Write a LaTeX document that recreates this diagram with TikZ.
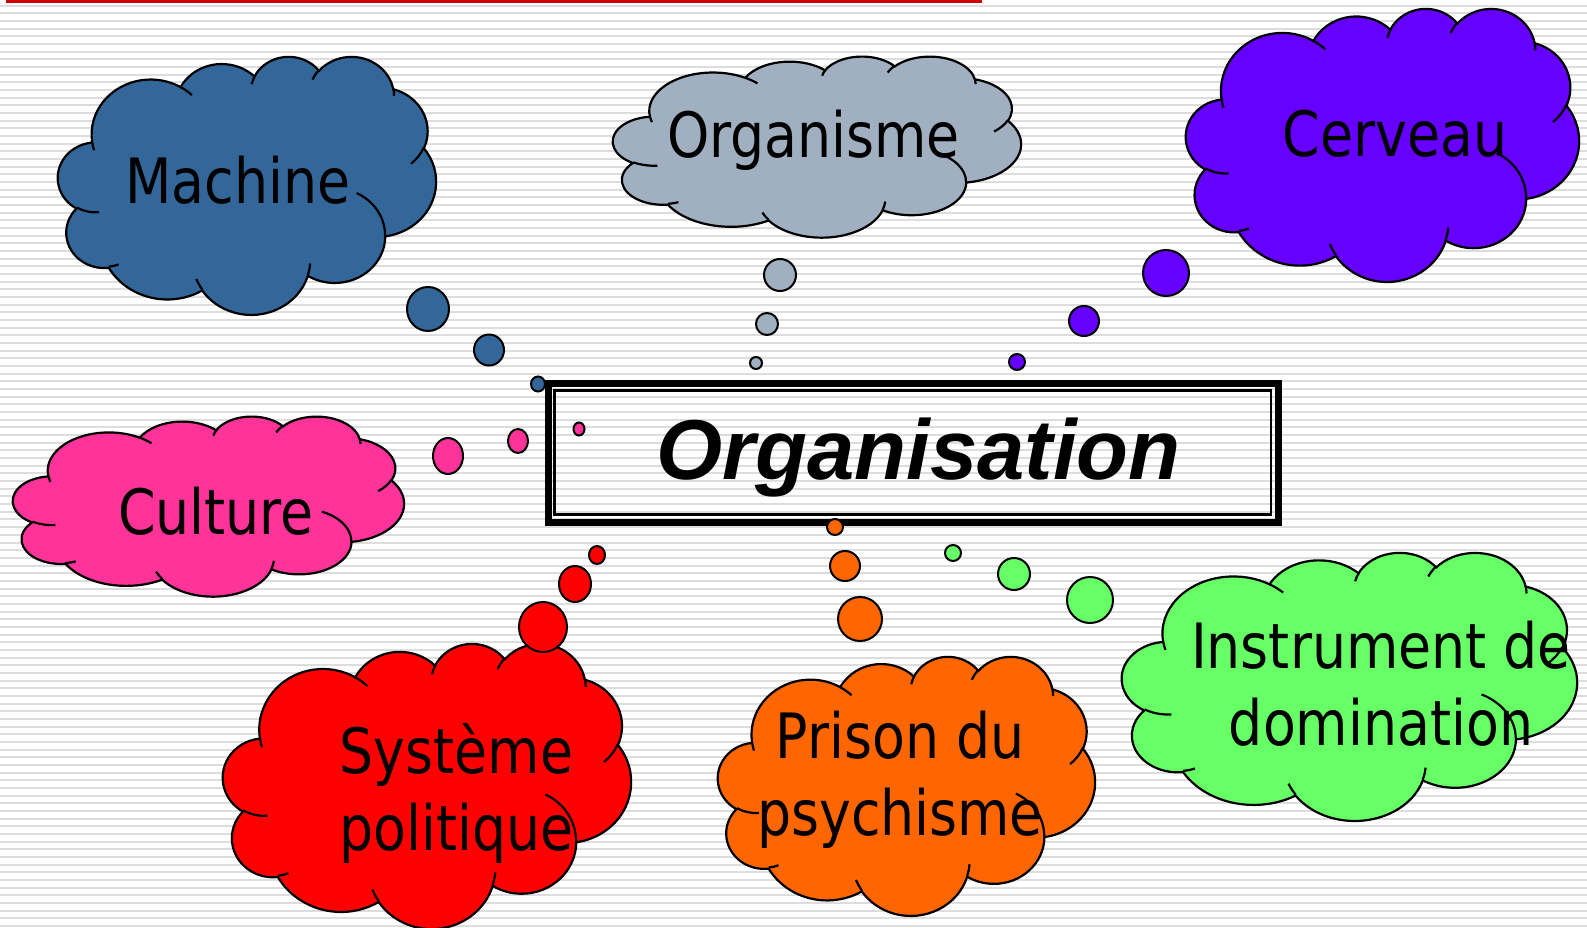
\documentclass[tikz,border=0pt]{standalone}
\usepackage{fontspec}
\usetikzlibrary{shapes.geometric}
\newfontfamily\cloudfont[FakeStretch=0.86]{DejaVu Sans}
\newfontfamily\titlefont{Liberation Sans}
\definecolor{machblue}{RGB}{51,102,153}
\definecolor{orggray}{RGB}{160,176,192}
\definecolor{brainviolet}{RGB}{102,0,255}
\definecolor{culturepink}{RGB}{255,51,153}
\definecolor{polred}{RGB}{255,0,0}
\definecolor{prisonorange}{RGB}{255,102,0}
\definecolor{dominagreen}{RGB}{102,255,102}
\definecolor{stripegray}{RGB}{221,221,221}
\definecolor{titlered}{RGB}{208,0,0}

% one puff of the cloud outline (visual angles, as in the slide)
\newcommand\puff[4]{%
  \pgfextra{%
    \pgfmathparse{#3+Mod(atan2(#1*sin(#3),#2*cos(#3))-(#3)+180,360)-180}\xdef\puffA{\pgfmathresult}%
    \pgfmathparse{#3+#4+Mod(atan2(#1*sin(#3+#4),#2*cos(#3+#4))-(#3+#4)+180,360)-180}\xdef\puffB{\pgfmathresult}%
  }%
  arc[start angle=\puffA, end angle=\puffB, x radius=#1, y radius=#2]}

% cloud in a 43.2 x 43.2 frame: left, top, width, height, colour
\newcommand\thoughtcloud[5]{%
  \begin{scope}[shift={(#1,#2)}, xscale=#3/43.2, yscale=#4/43.2]
    \path[cloudshape, fill=#5] (3.900,14.370)
      \puff{6.753}{9.190}{-190.4875}{123.7805}
      \puff{5.333}{7.267}{-144.1024}{89.9452}
      \puff{4.365}{5.945}{-145.8079}{99.7230}
      \puff{4.857}{6.595}{-130.9861}{117.2417}
      \puff{5.333}{7.273}{-78.7089}{109.0269}
      \puff{6.775}{9.220}{-46.2673}{130.2690}
      \puff{5.785}{7.867}{0.6250}{114.0333}
      \puff{6.752}{9.215}{22.4516}{115.1726}
      \puff{7.720}{10.543}{66.2426}{75.7110}
      \puff{4.360}{5.918}{-274.9421}{146.7356}
      \puff{4.345}{5.945}{-246.8285}{152.5189} -- cycle;
    \path[cloudshape]
      (4.693,26.177) \puff{4.345}{5.945}{86.7420}{26.4295}
      (6.928,34.899) \puff{4.360}{5.918}{73.6105}{11.4475}
      (16.478,39.090) \puff{6.752}{9.215}{137.6242}{14.0811}
      (28.827,34.751) \puff{6.752}{9.215}{6.4533}{15.9984}
      (34.129,22.954) \puff{5.785}{7.867}{-70.2924}{70.9174}
      (41.798,15.354) \puff{5.333}{7.273}{30.3180}{27.7515}
      (38.324,5.426) \puff{4.857}{6.595}{-13.7443}{14.8622}
      (29.078,3.952) \puff{4.857}{6.595}{-149.1815}{18.1959}
      (22.141,4.720) \puff{4.365}{5.945}{-163.4943}{17.6849}
      (14.000,5.192) \puff{6.753}{9.190}{-66.7070}{12.3194}
      (4.127,15.789) \puff{6.753}{9.190}{157.6544}{11.8582};
  \end{scope}}

\begin{document}
\begin{tikzpicture}[x=1pt, y=-1pt,
  cloudshape/.style={draw=black, line width=2.2pt},
  bubble/.style={ellipse, draw=black, line width=2pt, inner sep=0pt},
  cloudtxt/.style={font=\cloudfont\fontsize{62.5}{77}\selectfont, align=center, inner sep=0pt},
  orgbox/.style={draw=black, line width=7pt, outer sep=0pt, inner sep=0pt, font=\titlefont\bfseries\itshape\fontsize{85}{100}\selectfont}
]
  \useasboundingbox (0,0) rectangle (1587,928);
  % striped slide background
  \foreach \k in {0,...,120}
    \draw[stripegray, line width=2pt] (0,5.6+7.67*\k) -- (1587,5.6+7.67*\k);
  \fill[titlered] (6,0) rectangle (982,3);

  % the seven metaphors
  \thoughtcloud{58}{56}{378}{258}{machblue}
  \thoughtcloud{613}{56}{408}{181}{orggray}
  \thoughtcloud{1186}{8}{393}{273}{brainviolet}
  \thoughtcloud{13}{416}{391}{180}{culturepink}
  \thoughtcloud{223}{643}{408}{285}{polred}
  \thoughtcloud{718}{656}{377}{259}{prisonorange}
  \thoughtcloud{1122}{552}{455}{268}{dominagreen}

  % base = last line
  \node[cloudtxt, anchor=base] (machine) at (238,204) {Machine};
  \node[cloudtxt, anchor=base] (organisme) at (813.5,158) {Organisme};
  \node[cloudtxt, anchor=base] (cerveau) at (1395,157) {Cerveau};
  \node[cloudtxt, anchor=base] (culture) at (216,534) {Culture};
  \node[cloudtxt, anchor=base] (systeme) at (456.5,850) {Système\\politique};
  \node[cloudtxt, anchor=base] (prison) at (900,835) {Prison du\\psychisme};
  \node[cloudtxt, anchor=base] (instrument) at (1381,745) {Instrument de\\domination};

  % central box
  \node[orgbox, minimum width=730pt, minimum height=139pt, text height=52pt, text depth=0pt] (orga) at (913.5,453) {\hspace*{10pt}Organisation};
  \draw[line width=2.4pt] ([shift={(6,7)}]orga.north west) rectangle ([shift={(-7.5,-8)}]orga.south east);

  % thought bubbles
  \node[bubble, fill=machblue, minimum width=42pt, minimum height=44pt] (mach1) at (428,309) {};
  \node[bubble, fill=machblue, minimum width=30pt, minimum height=31pt] (mach2) at (489,350) {};
  \node[bubble, fill=machblue, minimum width=14pt, minimum height=15pt] (mach3) at (538,384) {};
  \node[bubble, fill=orggray, minimum width=32pt, minimum height=32pt] (orgn1) at (780,275) {};
  \node[bubble, fill=orggray, minimum width=22pt, minimum height=22pt] (orgn2) at (767,324) {};
  \node[bubble, fill=orggray, minimum width=12pt, minimum height=12pt] (orgn3) at (756,363) {};
  \node[bubble, fill=brainviolet, minimum width=46pt, minimum height=46pt] (cerv1) at (1166,273) {};
  \node[bubble, fill=brainviolet, minimum width=30pt, minimum height=30pt] (cerv2) at (1084,321) {};
  \node[bubble, fill=brainviolet, minimum width=16pt, minimum height=16pt] (cerv3) at (1017,362) {};
  \node[bubble, fill=culturepink, minimum width=30pt, minimum height=36pt] (cult1) at (448,456) {};
  \node[bubble, fill=culturepink, minimum width=20pt, minimum height=24pt] (cult2) at (518,441) {};
  \node[bubble, fill=culturepink, minimum width=11pt, minimum height=13pt] (cult3) at (579,429) {};
  \node[bubble, fill=polred, minimum width=48pt, minimum height=50pt] (syst1) at (543,627) {};
  \node[bubble, fill=polred, minimum width=32pt, minimum height=36pt] (syst2) at (575,584) {};
  \node[bubble, fill=polred, minimum width=16pt, minimum height=18pt] (syst3) at (597,555) {};
  \node[bubble, fill=prisonorange, minimum width=44pt, minimum height=44pt] (pris1) at (860,619) {};
  \node[bubble, fill=prisonorange, minimum width=30pt, minimum height=30pt] (pris2) at (845,566) {};
  \node[bubble, fill=prisonorange, minimum width=16pt, minimum height=16pt] (pris3) at (835,527) {};
  \node[bubble, fill=dominagreen, minimum width=46pt, minimum height=46pt] (domi1) at (1090,600) {};
  \node[bubble, fill=dominagreen, minimum width=32pt, minimum height=32pt] (domi2) at (1014,574) {};
  \node[bubble, fill=dominagreen, minimum width=16pt, minimum height=16pt] (domi3) at (953,553) {};
\end{tikzpicture}
\end{document}
